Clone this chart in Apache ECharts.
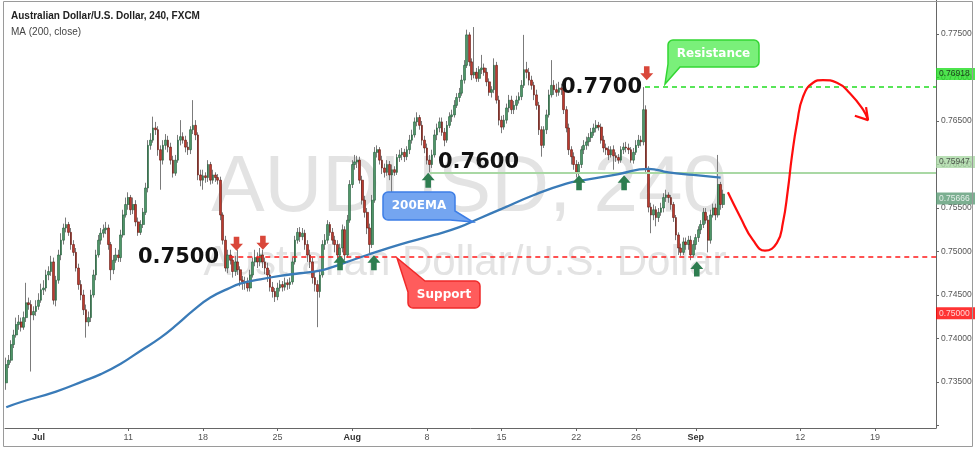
<!DOCTYPE html>
<html><head><meta charset="utf-8">
<script src="https://cdn.jsdelivr.net/npm/echarts@6/dist/echarts.min.js"></script>
<style>html,body{margin:0;padding:0;background:#fff}#c{width:975px;height:449px}</style>
</head><body><div id="c"></div>
<script>
// ---- time axis (4H bars, 6 per trading day) ----
const tradingDays = ['06-28','06-29','06-30','07-01','07-04','07-05','07-06','07-07','07-08','07-11','07-12','07-13','07-14','07-15','07-18','07-19','07-20','07-21','07-22','07-25','07-26','07-27','07-28','07-29','08-01','08-02','08-03','08-04','08-05','08-08','08-09','08-10','08-11','08-12','08-15','08-16','08-17','08-18','08-19','08-22','08-23','08-24','08-25','08-26','08-29','08-30','08-31','09-01','09-02','09-05','09-06','09-07','09-08','09-09','09-12','09-13','09-14','09-15','09-16','09-19','09-20','09-21','09-22','09-23'];
const barHours = ['00','04','08','12','16','20'];
const tickDays = ['07-01','07-11','07-18','07-25','08-01','08-08','08-15','08-22','08-26','09-01','09-12','09-19'];
const tickLabels = ['Jul','11','18','25','Aug','8','15','22','26','Sep','12','19'];
const monthLabels = ['Jul','Aug','Sep'];

// ---- candles: [open, close, low, high] ----
const candles = [
[.7349,.7370,.7341,.7378],[.7370,.7375,.7366,.7381],[.7375,.7393,.7372,.7398],[.7393,.7404,.7389,.7410],[.7404,.7416,.7401,.7424],
[.7416,.7419,.7410,.7427],[.7419,.7413,.7408,.7424],[.7413,.7424,.7410,.7431],[.7424,.7441,.7419,.7464],[.7441,.7439,.7433,.7447],
[.7439,.7427,.7362,.7444],[.7427,.7431,.7421,.7437],[.7431,.7437,.7426,.7444],[.7437,.7444,.7433,.7452],[.7444,.7456,.7441,.7463],
[.7456,.7458,.7450,.7467],[.7458,.7473,.7454,.7479],[.7473,.7477,.7467,.7483],[.7477,.7488,.7472,.7495],[.7488,.7444,.7439,.7493],
[.7444,.7467,.7437,.7472],[.7467,.7496,.7463,.7502],[.7496,.7513,.7490,.7521],[.7513,.7527,.7508,.7532],[.7527,.7531,.7522,.7539],
[.7531,.7522,.7518,.7534],[.7522,.7508,.7502,.7527],[.7508,.7499,.7495,.7513],[.7499,.7481,.7477,.7504],[.7481,.7462,.7456,.7486],
[.7462,.7450,.7444,.7467],[.7450,.7433,.7427,.7456],[.7433,.7419,.7401,.7439],[.7419,.7424,.7414,.7431],[.7424,.7450,.7419,.7456],
[.7450,.7473,.7447,.7479],[.7473,.7496,.7467,.7502],[.7496,.7513,.7493,.7519],[.7513,.7521,.7508,.7527],[.7521,.7525,.7516,.7531],
[.7525,.7527,.7520,.7534],[.7527,.7508,.7502,.7531],[.7508,.7479,.7467,.7511],[.7479,.7490,.7474,.7496],[.7490,.7496,.7487,.7504],
[.7496,.7493,.7488,.7502],[.7493,.7519,.7488,.7525],[.7519,.7542,.7516,.7548],[.7542,.7554,.7539,.7562],[.7554,.7562,.7548,.7568],
[.7562,.7548,.7542,.7565],[.7548,.7554,.7543,.7562],[.7554,.7534,.7529,.7559],[.7534,.7522,.7518,.7539],[.7522,.7531,.7519,.7536],
[.7531,.7545,.7527,.7550],[.7545,.7573,.7542,.7579],[.7573,.7622,.7568,.7628],[.7622,.7628,.7617,.7636],[.7628,.7642,.7625,.7655],
[.7642,.7640,.7634,.7649],[.7640,.7617,.7610,.7644],[.7617,.7605,.7571,.7622],[.7605,.7622,.7600,.7628],[.7622,.7628,.7617,.7635],
[.7628,.7620,.7614,.7633],[.7620,.7605,.7600,.7625],[.7605,.7590,.7585,.7610],[.7590,.7605,.7587,.7611],[.7605,.7628,.7602,.7634],
[.7628,.7632,.7622,.7651],[.7632,.7628,.7624,.7637],[.7628,.7620,.7614,.7633],[.7620,.7617,.7611,.7626],[.7617,.7640,.7612,.7644],
[.7640,.7645,.7635,.7674],[.7645,.7634,.7628,.7651],[.7634,.7588,.7582,.7637],[.7588,.7582,.7575,.7594],[.7582,.7587,.7571,.7594],
[.7587,.7585,.7579,.7591],[.7585,.7600,.7580,.7605],[.7600,.7582,.7577,.7603],[.7582,.7588,.7578,.7594],[.7588,.7585,.7580,.7591],
[.7585,.7582,.7577,.7589],[.7582,.7542,.7536,.7586],[.7542,.7513,.7508,.7545],[.7513,.7481,.7477,.7518],[.7481,.7496,.7475,.7502],
[.7496,.7490,.7485,.7502],[.7490,.7477,.7470,.7495],[.7477,.7488,.7472,.7495],[.7488,.7479,.7473,.7502],[.7479,.7467,.7460,.7483],
[.7467,.7465,.7456,.7472],[.7465,.7464,.7456,.7471],[.7464,.7458,.7454,.7470],[.7458,.7473,.7454,.7479],[.7473,.7488,.7470,.7493],
[.7488,.7493,.7483,.7502],[.7493,.7488,.7481,.7499],[.7488,.7496,.7483,.7504],[.7496,.7488,.7481,.7502],[.7488,.7481,.7474,.7493],
[.7481,.7473,.7465,.7487],[.7473,.7459,.7454,.7479],[.7459,.7454,.7447,.7465],[.7454,.7448,.7442,.7458],[.7448,.7458,.7444,.7464],
[.7458,.7462,.7454,.7467],[.7462,.7459,.7454,.7466],[.7459,.7464,.7455,.7470],[.7464,.7462,.7456,.7468],[.7462,.7465,.7457,.7470],
[.7465,.7488,.7462,.7493],[.7488,.7513,.7485,.7518],[.7513,.7522,.7509,.7527],[.7522,.7517,.7511,.7528],[.7517,.7521,.7513,.7527],
[.7521,.7508,.7502,.7525],[.7508,.7496,.7488,.7513],[.7496,.7488,.7481,.7502],[.7488,.7470,.7463,.7493],[.7470,.7462,.7454,.7477],
[.7462,.7454,.7413,.7467],[.7454,.7473,.7447,.7479],[.7473,.7508,.7470,.7513],[.7508,.7513,.7502,.7520],[.7513,.7531,.7509,.7536],
[.7531,.7522,.7518,.7534],[.7522,.7513,.7508,.7527],[.7513,.7508,.7499,.7518],[.7508,.7496,.7490,.7513],[.7496,.7504,.7493,.7509],
[.7504,.7525,.7499,.7531],[.7525,.7496,.7490,.7529],[.7496,.7536,.7493,.7542],[.7536,.7577,.7533,.7582],[.7577,.7600,.7573,.7605],
[.7600,.7603,.7594,.7611],[.7603,.7605,.7596,.7610],[.7605,.7582,.7578,.7609],[.7582,.7559,.7554,.7587],[.7559,.7545,.7539,.7564],
[.7545,.7527,.7520,.7550],[.7527,.7508,.7498,.7532],[.7508,.7559,.7504,.7565],[.7559,.7614,.7556,.7620],[.7614,.7617,.7608,.7622],
[.7617,.7605,.7600,.7620],[.7605,.7596,.7589,.7610],[.7596,.7591,.7585,.7601],[.7591,.7600,.7587,.7605],[.7600,.7588,.7582,.7604],
[.7588,.7594,.7567,.7600],[.7594,.7591,.7587,.7598],[.7591,.7608,.7588,.7612],[.7608,.7611,.7603,.7617],[.7611,.7614,.7605,.7619],
[.7614,.7609,.7603,.7618],[.7609,.7617,.7605,.7621],[.7617,.7628,.7612,.7634],[.7628,.7634,.7624,.7640],[.7634,.7649,.7631,.7654],
[.7649,.7654,.7644,.7660],[.7654,.7645,.7640,.7657],[.7645,.7628,.7622,.7650],[.7628,.7619,.7613,.7633],[.7619,.7605,.7600,.7624],
[.7605,.7600,.7591,.7611],[.7600,.7611,.7596,.7617],[.7611,.7634,.7608,.7640],[.7634,.7642,.7628,.7647],[.7642,.7649,.7637,.7654],
[.7649,.7637,.7633,.7654],[.7637,.7628,.7621,.7642],[.7628,.7645,.7625,.7650],[.7645,.7655,.7642,.7660],[.7655,.7657,.7649,.7663],
[.7657,.7668,.7654,.7674],[.7668,.7677,.7665,.7682],[.7677,.7682,.7672,.7688],[.7682,.7697,.7679,.7703],[.7697,.7714,.7693,.7720],
[.7714,.7749,.7711,.7755],[.7749,.7718,.7713,.7752],[.7718,.7703,.7697,.7722],[.7703,.7706,.7699,.7758],[.7706,.7699,.7695,.7711],
[.7699,.7709,.7695,.7713],[.7709,.7711,.7704,.7726],[.7711,.7706,.7702,.7716],[.7706,.7695,.7690,.7711],[.7695,.7683,.7679,.7699],
[.7683,.7686,.7677,.7690],[.7686,.7714,.7682,.7722],[.7714,.7674,.7670,.7718],[.7674,.7651,.7645,.7679],[.7651,.7643,.7636,.7656],
[.7643,.7651,.7640,.7657],[.7651,.7665,.7647,.7670],[.7665,.7674,.7660,.7680],[.7674,.7663,.7658,.7679],[.7663,.7668,.7658,.7673],
[.7668,.7674,.7663,.7679],[.7674,.7678,.7670,.7683],[.7678,.7691,.7674,.7697],[.7691,.7709,.7688,.7749],[.7709,.7706,.7699,.7718],
[.7706,.7697,.7691,.7711],[.7697,.7691,.7686,.7702],[.7691,.7680,.7674,.7695],[.7680,.7668,.7663,.7686],[.7668,.7640,.7634,.7672],
[.7640,.7622,.7609,.7644],[.7622,.7640,.7619,.7644],[.7640,.7657,.7635,.7663],[.7657,.7680,.7654,.7686],[.7680,.7691,.7677,.7720],
[.7691,.7686,.7680,.7697],[.7686,.7683,.7678,.7693],[.7683,.7688,.7679,.7695],[.7688,.7686,.7680,.7693],[.7686,.7663,.7658,.7690],
[.7663,.7642,.7637,.7667],[.7642,.7617,.7611,.7647],[.7617,.7609,.7600,.7621],[.7609,.7600,.7594,.7614],[.7600,.7591,.7585,.7605],
[.7591,.7600,.7587,.7603],[.7600,.7617,.7596,.7621],[.7617,.7622,.7612,.7628],[.7622,.7626,.7617,.7632],[.7626,.7631,.7621,.7636],
[.7631,.7637,.7626,.7642],[.7637,.7642,.7633,.7647],[.7642,.7645,.7637,.7651],[.7645,.7643,.7639,.7649],[.7643,.7628,.7624,.7647],
[.7628,.7619,.7614,.7633],[.7619,.7617,.7611,.7624],[.7617,.7611,.7605,.7621],[.7611,.7617,.7608,.7621],[.7617,.7610,.7594,.7622],
[.7610,.7608,.7603,.7614],[.7608,.7605,.7601,.7612],[.7605,.7617,.7602,.7621],[.7617,.7620,.7612,.7625],[.7620,.7619,.7614,.7626],
[.7619,.7617,.7612,.7624],[.7617,.7605,.7602,.7620],[.7605,.7614,.7601,.7619],[.7614,.7622,.7611,.7628],[.7622,.7628,.7619,.7634],
[.7628,.7626,.7621,.7633],[.7626,.7663,.7622,.7689],[.7663,.7594,.7589,.7668],[.7594,.7551,.7545,.7598],[.7551,.7542,.7521,.7556],
[.7542,.7548,.7536,.7554],[.7548,.7539,.7529,.7552],[.7539,.7545,.7534,.7550],[.7545,.7550,.7541,.7556],[.7550,.7562,.7545,.7567],
[.7562,.7565,.7557,.7571],[.7565,.7562,.7556,.7568],[.7562,.7554,.7548,.7565],[.7554,.7539,.7534,.7557],[.7539,.7519,.7513,.7542],
[.7519,.7504,.7496,.7522],[.7504,.7499,.7495,.7509],[.7499,.7511,.7496,.7516],[.7511,.7508,.7502,.7516],[.7508,.7513,.7502,.7518],
[.7513,.7496,.7490,.7518],[.7496,.7508,.7493,.7513],[.7508,.7516,.7502,.7520],[.7516,.7525,.7511,.7529],[.7525,.7531,.7520,.7536],
[.7531,.7545,.7527,.7550],[.7545,.7536,.7532,.7550],[.7536,.7513,.7499,.7541],[.7513,.7542,.7509,.7548],[.7542,.7550,.7539,.7555],
[.7550,.7542,.7536,.7555],[.7542,.7577,.7539,.7611],[.7577,.7554,.7548,.7580],[.7554,.7566,.7550,.7571]
];

// ---- MA(200) readings: [bar index, value] ----
const ma200 = [[0,.7321],[6,.7327],[20,.7339],[31,.7351],[38,.7359],[46,.7371],[54,.7386],[62,.7401],[69,.7417],[75,.7432],[82,.7447],[89,.7457],[94,.7463],[102,.7468],[110,.7472],[118,.7475],[126,.7478],[131,.7482],[137,.7488],[145,.7496],[158,.7508],[172,.7519],[182,.7528],[190,.7538],[199,.7549],[212,.7565],[225,.7578],[232,.7582],[246,.7589],[258,.7595],[266,.7591],[276,.7588],[287,.7585]];

// ---- horizontal levels: [startBar, endBar, price] ----
const supportLevel = [89.6, 373.5, .74937];
const resistanceLevel = [256.6, 373.5, .76891];
const midLevel = [170.2, 373.5, .75903];

// ---- forecast path (hand drawn red curve) ----
const forecast = [[289.9,.7568],[294.8,.7540],[300.0,.7513],[304.8,.7501],[309.6,.7510],[312.0,.7533],[314.0,.7571],[315.6,.7609],[317.7,.7648],[320.1,.7678],[324.1,.7694],[328.1,.7697],[333.7,.7694],[338.9,.7682],[344.2,.7663],[346.2,.7651]];
const forecastHead = [[340.9,.7656],[346.2,.7651],[345.4,.7666]];

// ---- arrows ----
const downArrows = [[92.5,.7509],[103.1,.7510],[257.3,.7705]];
const upArrows = [[134.1,.7487],[147.7,.7487],[169.5,.7582],[230.1,.7579],[248.2,.7579],[277.4,.7480]];

// ---- price tags on the right scale ----
const tagPrices = [.7704, .7603, .7561, .7429];
const tagTexts = ['0.76918','0.75947','0.75666','0.75000'];
const tagStyles = [{bg:'#22dd22',fg:'#111'},{bg:'#a9d8a4',fg:'#333'},{bg:'#5b9b75',fg:'#fff'},{bg:'#ff0000',fg:'#fff'}];

const categories = tradingDays.flatMap(d => barHours.map(h => d + ' ' + h)).slice(5, 5 + 374);
const tickIdx = new Map();
tickDays.forEach((d, k) => tickIdx.set(categories.indexOf(d + ' 00'), tickLabels[k]));
const bodies = candles.map(r => [r[0], r[1], Math.min(r[0], r[1]), Math.max(r[0], r[1])]);
const lvl = L => [[L[0], L[2]], [L[1], L[2]]];

// rounded-corner helper for callout bubbles
function corner(cx, cy, r, a0) {
  const pts = [];
  for (let k = 0; k <= 4; k++) { const a = (a0 + k * 22.5) * Math.PI / 180; pts.push([cx + r * Math.cos(a), cy + r * Math.sin(a)]); }
  return pts;
}
const emaBubble = [...corner(388,197,5,180), ...corner(450,197,5,270), [455,211], [473,222], [450,220], ...corner(388,215,5,90)];
const supportBubble = [[425,281], ...corner(475,286,5,270), ...corner(475,303,5,0), ...corner(413,303,5,90), [408,292], [397,258]];
const resistBubble = [...corner(673,45,5,180), ...corner(754,45,5,270), ...corner(754,62,5,0), [680,67], [665,84], [668,64]];

const chart = echarts.init(document.getElementById('c'));
const FONT = '"Liberation Sans", Arial, sans-serif';
chart.setOption({
  animation: false,
  backgroundColor: '#fff',
  grid: {left: 5, right: 39, top: 0, bottom: 21, containLabel: false},
  xAxis: [{
    type: 'category', data: categories, boundaryGap: true,
    axisLine: {onZero: false, lineStyle: {color: '#666'}},
    axisTick: {show: true, alignWithLabel: true, length: 3, interval: i => tickIdx.has(i), lineStyle: {color: '#666'}},
    axisLabel: {interval: i => tickIdx.has(i), margin: 5, fontSize: 9, fontFamily: FONT, color: '#555',
      formatter: (v, i) => { const t = tickIdx.get(i) || ''; return monthLabels.includes(t) ? '{m|' + t + '}' : t; },
      rich: {m: {fontWeight: 'bold', fontSize: 9, fontFamily: FONT, color: '#333'}}},
    splitLine: {show: false}
  }, {type: 'value', min: -0.5, max: 373.5, show: false, axisLine: {onZero: false}}],
  yAxis: {
    type: 'value', position: 'right', min: 0.72971, max: 0.77891, minInterval: 0.005, maxInterval: 0.005,
    splitLine: {show: false},
    axisLine: {show: true, onZero: false, lineStyle: {color: '#666'}},
    axisTick: {show: true, length: 3, lineStyle: {color: '#666'}},
    axisLabel: {showMinLabel: false, showMaxLabel: false, margin: 5, fontSize: 8.5, fontFamily: FONT, color: '#555',
      formatter: v => (v < 0.7325 ? '' : v.toFixed(5))}
  },
  series: [
    {type: 'candlestick', data: candles, barWidth: 1, silent: true, z: 2,
     itemStyle: {color: '#7b7b7b', color0: '#7b7b7b', borderColor: '#7b7b7b', borderColor0: '#7b7b7b', borderWidth: 1}},
    {type: 'candlestick', data: bodies, barWidth: 2.2, silent: true, z: 2.1,
     itemStyle: {color: '#4f9668', color0: '#bd3a2e', borderColor: '#245e3b', borderColor0: '#621a13', borderWidth: 0.6}},
    {type: 'line', xAxisIndex: 1, data: lvl(midLevel), symbol: 'none', silent: true, z: 3,
     lineStyle: {color: '#a9d8a4', width: 2}},
    {type: 'line', xAxisIndex: 1, data: ma200, smooth: 0.5, symbol: 'none', silent: true, z: 3.5,
     lineStyle: {color: '#3a7bb8', width: 2.3}},
    {type: 'line', xAxisIndex: 1, data: lvl(supportLevel), symbol: 'none', silent: true, z: 4,
     lineStyle: {color: '#ff1a1a', width: 1.5, type: [5, 4]}},
    {type: 'line', xAxisIndex: 1, data: lvl(resistanceLevel), symbol: 'none', silent: true, z: 4,
     lineStyle: {color: '#22dd22', width: 1.5, type: [5, 4]}},
    {type: 'line', xAxisIndex: 1, data: forecast, smooth: 0.5, symbol: 'none', silent: true, z: 5,
     lineStyle: {color: '#ff0d0d', width: 2.2}},
    {type: 'line', xAxisIndex: 1, data: forecastHead, symbol: 'none', silent: true, z: 5,
     lineStyle: {color: '#ff0d0d', width: 2.2}},
    {type: 'scatter', xAxisIndex: 1, data: downArrows, silent: true, z: 6,
     symbol: 'path://M4,0 L10,0 L10,7 L14,7 L7,14 L0,7 L4,7 Z', symbolSize: [13, 14],
     itemStyle: {color: '#d9473a', opacity: 1}},
    {type: 'scatter', xAxisIndex: 1, data: upArrows, silent: true, z: 6,
     symbol: 'path://M7,0 L14,7 L10,7 L10,14 L4,14 L4,7 L0,7 Z', symbolSize: [13, 15],
     itemStyle: {color: '#2e7d50', opacity: 1}},
    {type: 'scatter', xAxisIndex: 1, silent: true, z: 10, symbolSize: 1, itemStyle: {color: 'rgba(0,0,0,0)'},
     data: tagPrices.map((p, k) => ({value: [373.3, p],
       label: {show: true, position: 'right', distance: 0, formatter: tagTexts[k], backgroundColor: tagStyles[k].bg,
         color: tagStyles[k].fg, fontSize: 8.5, fontFamily: FONT, lineHeight: 9, padding: [2, 6, 1, 3]}}))}
  ],
  graphic: [
    {type: 'text', x: 469, y: 189, z: 0, silent: true,
     style: {text: 'AUDUSD, 240', font: '80px ' + FONT, fill: '#e3e3e3', align: 'center', verticalAlign: 'middle'}},
    {type: 'text', x: 465, y: 263.5, z: 0, silent: true,
     style: {text: 'Australian Dollar/U.S. Dollar', font: '42px ' + FONT, fill: '#e3e3e3', align: 'center', verticalAlign: 'middle'}},
    {type: 'text', x: 11, y: 16, z: 100, silent: true,
     style: {text: 'Australian Dollar/U.S. Dollar, 240, FXCM', font: 'bold 10px ' + FONT, fill: '#222', verticalAlign: 'middle'}},
    {type: 'text', x: 11, y: 32, z: 100, silent: true,
     style: {text: 'MA (200, close)', font: '10px ' + FONT, fill: '#444', verticalAlign: 'middle'}},
    {type: 'text', x: 138, y: 258, z: 100, silent: true,
     style: {text: '0.7500', font: 'bold 21px "DejaVu Sans"', fill: '#111', verticalAlign: 'middle'}},
    {type: 'text', x: 438, y: 163, z: 100, silent: true,
     style: {text: '0.7600', font: 'bold 21px "DejaVu Sans"', fill: '#111', verticalAlign: 'middle'}},
    {type: 'text', x: 561, y: 88, z: 100, silent: true,
     style: {text: '0.7700', font: 'bold 21px "DejaVu Sans"', fill: '#111', verticalAlign: 'middle'}},
    {type: 'polygon', z: 100, silent: true, shape: {points: emaBubble},
     style: {fill: '#74a5f0', stroke: '#3d7ee6', lineWidth: 1.5}},
    {type: 'text', x: 419, y: 206, z: 101, silent: true,
     style: {text: '200EMA', font: 'bold 12px "DejaVu Sans"', fill: '#fff', align: 'center', verticalAlign: 'middle'}},
    {type: 'polygon', z: 100, silent: true, shape: {points: supportBubble},
     style: {fill: '#ff5c5c', stroke: '#f02a2a', lineWidth: 1.5}},
    {type: 'text', x: 444, y: 294.5, z: 101, silent: true,
     style: {text: 'Support', font: 'bold 12px "DejaVu Sans"', fill: '#fff', align: 'center', verticalAlign: 'middle'}},
    {type: 'polygon', z: 100, silent: true, shape: {points: resistBubble},
     style: {fill: '#7af07a', stroke: '#33d633', lineWidth: 1.5}},
    {type: 'text', x: 713.5, y: 53.5, z: 101, silent: true,
     style: {text: 'Resistance', font: 'bold 12px "DejaVu Sans"', fill: '#fff', align: 'center', verticalAlign: 'middle'}},
    {type: 'rect', z: 100, silent: true, shape: {x: 3.5, y: 1.5, width: 969, height: 445},
     style: {fill: 'none', stroke: '#9a9a9a', lineWidth: 1}}
  ]
});
</script></body></html>
